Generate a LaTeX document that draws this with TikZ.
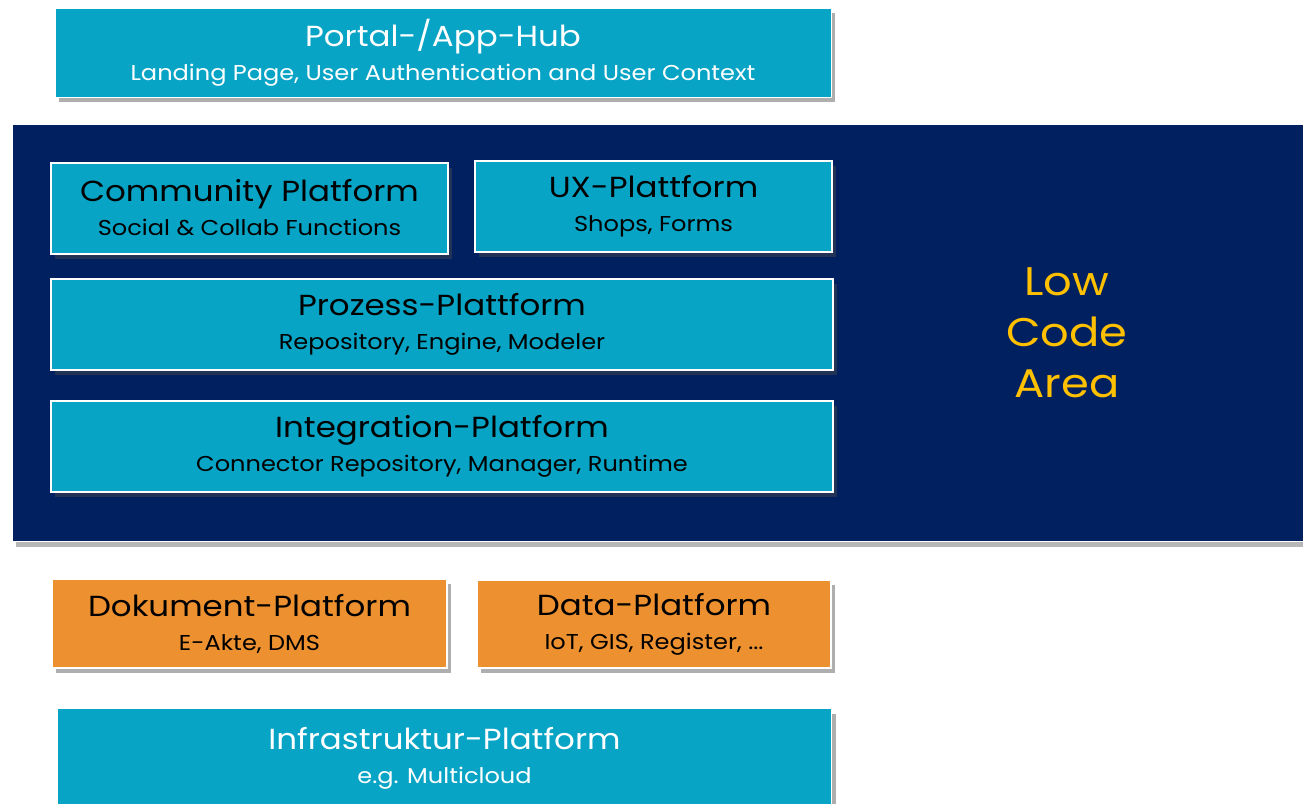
\documentclass[tikz,border=0pt]{standalone}
\usepackage{fontspec}
\setmainfont{Poppins}[FakeStretch=1.12]
\usetikzlibrary{shadows}
\definecolor{teal}{HTML}{08A4C5}
\definecolor{navy}{HTML}{002060}
\definecolor{orng}{HTML}{ED9030}
\definecolor{gold}{HTML}{FFC000}
\tikzset{
  x=1pt,y=-1pt,
  card/.style={draw=white, line width=2pt, inner sep=0pt, align=center,
    drop shadow={shadow xshift=4pt, shadow yshift=-5pt, opacity=0.45, fill=black!70},
    font=\fontsize{21.5}{34}\selectfont},
  tealcard/.style={card, fill=teal, text=black},
  orangecard/.style={card, fill=orng, text=black},
  whitetxt/.style={card, fill=teal, text=white, line width=1pt},
}
\newcommand{\ttl}[1]{{\fontsize{29}{34}\selectfont #1}}
\begin{document}
\begin{tikzpicture}
\useasboundingbox (0,0) rectangle (1303,803);
% low code area
\node[draw=white, line width=1pt, fill=navy, minimum width=1310pt, minimum height=417pt, anchor=north west,
  drop shadow={shadow xshift=3pt, shadow yshift=-5pt, opacity=0.4, fill=black!70}] (area) at (12,124) {};
\node[text=gold, align=center, font=\fontsize{40}{51}\selectfont] (low) at (1067,333) {Low\\Code\\Area};
% top
\node[whitetxt, minimum width=776pt, minimum height=89pt] (portal) at (443,52.5)
  {\ttl{Portal-/App-Hub}\\Landing Page, User Authentication and User Context};
% inner boxes
\node[tealcard, minimum width=397pt, minimum height=91pt] (comm) at (249.5,208)
  {\ttl{Community Platform}\\Social \& Collab Functions};
\node[tealcard, minimum width=357pt, minimum height=91pt] (ux) at (653.5,206.5)
  {\ttl{UX-Plattform}\\Shops, Forms};
\node[tealcard, minimum width=782pt, minimum height=91pt] (proz) at (442,324.5)
  {\ttl{Prozess-Plattform}\\Repository, Engine, Modeler};
\node[tealcard, minimum width=782pt, minimum height=91pt] (integ) at (442,446.5)
  {\ttl{Integration-Platform}\\Connector Repository, Manager, Runtime};
% orange
\node[orangecard, minimum width=395pt, minimum height=89pt] (dok) at (249.5,623.5)
  {\ttl{Dokument-Platform}\\E-Akte, DMS};
\node[orangecard, minimum width=354pt, minimum height=88pt] (data) at (654,624)
  {\ttl{Data-Platform}\\IoT, GIS, Register, ...};
% infrastructure
\node[whitetxt, minimum width=774pt, minimum height=100pt, anchor=north west] (infra) at (57,708)
  {\ttl{Infrastruktur-Platform}\\e.g. Multicloud};
\end{tikzpicture}
\end{document}
